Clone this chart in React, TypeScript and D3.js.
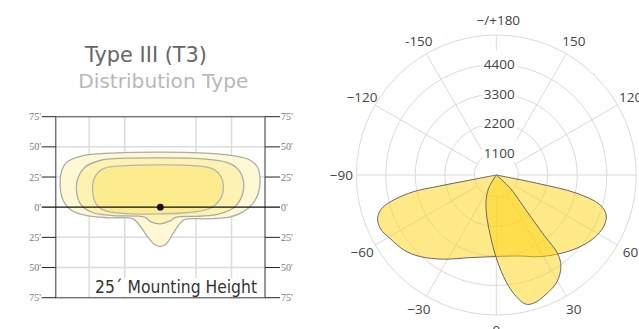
import React from "react";
import * as d3 from "d3";

// ---------- Left chart (iso-footcandle plot) data, in feet ----------
const yTickValues = [75, 50, 25, 0, -25, -50, -75];
const xGridValues = [-50, -25, 25, 50];
const yGridValues = [-50, -25, 25, 50];

const outerContour: [number, number][] = [
  [0, 45.6], [27.5, 45.1], [50.8, 42.8], [62.5, 39.3], [68.3, 33.1], [70, 23.5], [69, 12.4],
  [64.8, 2.8], [57.8, -4.1], [48.5, -8.3], [32.2, -9.6], [17, -10.2], [13.5, -13.8], [8.8, -22],
  [4.2, -30.3], [0, -32.6], [-4, -30.9], [-8.7, -24.9], [-14.5, -15.2], [-19.2, -9.6],
  [-35.5, -8.8], [-51.8, -6.9], [-62.3, -2.7], [-68.2, 5.6], [-70.3, 16.6], [-69.3, 30.4],
  [-65.8, 37.3], [-54.2, 42.8], [-30.8, 45.1],
];
const middleContour: [number, number][] = [
  [0, 40.9], [27.5, 40.3], [46.2, 37.3], [54.3, 31.8], [58.3, 22.1], [57.4, 9.7], [52, 0],
  [41.5, -5.5], [27.5, -7.5], [11.2, -8.3], [6.5, -11.6], [0, -13.8], [-6.3, -12.4], [-11, -8.3],
  [-33.2, -6.9], [-47.2, -4.6], [-55.3, 1.4], [-58.8, 12.4], [-57.7, 24.9], [-53, 33.1],
  [-42.5, 38.7], [-23.8, 40.6],
];
const innerContour: [number, number][] = [
  [0, 35.1], [22.8, 34.5], [36.8, 31.8], [42.7, 24.9], [44.3, 15.2], [41.5, 5.6], [34.5, -1.3],
  [18.2, -4.6], [0, -5.5], [-19.2, -5.5], [-37.8, -3.3], [-44.8, 2.2], [-47.6, 13.8],
  [-46, 24.9], [-40.2, 31.8], [-23.8, 34.5],
];

// ---------- Right chart (polar candela plot) data ----------
const ringValues = [1100, 2200, 3300, 4400, 5500];
const ringLabels = ["1100", "2200", "3300", "4400"];
const spokeAngles = [-150, -120, -90, -60, -30, 0, 30, 60, 90, 120, 150, 180];
const angleLabels = ["-150", "−120", "−90", "−60", "−30", "0", "30", "60", "90", "120", "150", "−/+180"];

// [angle in degrees (0 = nadir), candela]
const lateralPlane: [number, number][] = [
  [-80, 0], [-79, 1270], [-79, 2530], [-78.6, 3430], [-76.3, 4220], [-73.8, 4720], [-70, 4990],
  [-65, 5040], [-59, 4890], [-51, 4720], [-43, 4440], [-32, 3980], [-17.5, 3510], [0, 3320],
  [16.5, 3430], [27, 3700], [37.4, 4000], [47.8, 4340], [57, 4610], [64.3, 4720], [70, 4640],
  [73.9, 4310], [77.2, 3360], [78.5, 1830], [80, 0],
];
const verticalPlane: [number, number][] = [
  [-35, 0], [-30, 770], [-21.2, 1340], [-12.1, 1930], [-4.8, 2650], [-0.7, 3260], [4.1, 4080],
  [8.3, 4740], [12.7, 5210], [16.2, 5260], [23.2, 5080], [29.6, 4860], [35.2, 4460], [38, 3990],
  [38.4, 3170], [40, 2060], [46.5, 965], [50, 0],
];

export default function App() {
  // Left chart scales
  const x = d3.scaleLinear().domain([-73.5, 73.5]).range([55.7, 265]);
  const y = d3.scaleLinear().domain([-75, 75]).range([297.7, 116.7]);
  const contourLine = d3
    .line<[number, number]>()
    .x((d) => x(d[0]))
    .y((d) => y(d[1]))
    .curve(d3.curveCatmullRomClosed.alpha(0.5));

  // Polar scales
  const cx = 496.3;
  const cy = 175;
  const R = 140;
  const r = d3.scaleLinear().domain([0, 1100, 5500]).range([0, 22, R]);
  const toRad = (deg: number) => ((180 - deg) * Math.PI) / 180;
  const radial = d3
    .lineRadial<[number, number]>()
    .angle((d) => toRad(d[0]))
    .radius((d) => r(d[1]))
    .curve(d3.curveCatmullRom.alpha(0.5));
  const pt = (deg: number, rad: number): [number, number] => [
    rad * Math.sin((deg * Math.PI) / 180),
    rad * Math.cos((deg * Math.PI) / 180),
  ];

  const fontSans = "'DejaVu Sans', Verdana, sans-serif";
  const fontPlot = "'Open Sans', 'Noto Sans', sans-serif";
  const fontSerif = "'Liberation Serif', 'DejaVu Serif', serif";

  return (
    <svg
      width={639}
      height={329}
      style={{ position: "absolute", left: 0, top: 0, background: "#fff" }}
    >
      {/* Titles */}
      <text x={85} y={61.7} fontFamily={fontSans} fontSize={22} fill="#666" textLength={122} lengthAdjust="spacingAndGlyphs">
        Type III (T3)
      </text>
      <text x={78.3} y={88} fontFamily={fontSans} fontSize={19} fill="#b8b8b8" textLength={170} lengthAdjust="spacingAndGlyphs">
        Distribution Type
      </text>

      {/* Left chart grid */}
      <g>
        {xGridValues.map((v) => (
          <line key={"xg" + v} x1={x(v)} x2={x(v)} y1={y(75)} y2={y(-75)} stroke="#dcdcdc" strokeWidth={1.5} />
        ))}
        {yGridValues.map((v) => (
          <line key={"yg" + v} x1={x(-73.5)} x2={x(73.5)} y1={y(v)} y2={y(v)} stroke="#dcdcdc" strokeWidth={1.5} />
        ))}
        <path d={contourLine(outerContour) || ""} fill="#FFF8D4" stroke="#ababab" strokeWidth={1.3} />
        <path d={contourLine(middleContour) || ""} fill="#FEF2B2" stroke="#ababab" strokeWidth={1.3} />
        <path d={contourLine(innerContour) || ""} fill="#FDEC8E" stroke="#b5b5b5" strokeWidth={1.3} />
        <rect x={x(-73.5)} y={y(75)} width={x(73.5) - x(-73.5)} height={y(-75) - y(75)} fill="none" stroke="#777" strokeWidth={1.5} />
        {yTickValues.map((v) => (
          <g key={"yt" + v}>
            {v !== 0 && (
              <>
                <line x1={41.7} x2={x(-73.5)} y1={y(v)} y2={y(v)} stroke="#222" strokeWidth={1} />
                <line x1={x(73.5)} x2={280} y1={y(v)} y2={y(v)} stroke="#222" strokeWidth={1} />
              </>
            )}
            <text x={41} y={y(v)} dy="0.35em" textAnchor="end" fontFamily={fontSerif} fontSize={10} fill="#777">
              {Math.abs(v) + "'"}
            </text>
            <text x={281} y={y(v)} dy="0.35em" textAnchor="start" fontFamily={fontSerif} fontSize={10} fill="#777">
              {Math.abs(v) + "'"}
            </text>
          </g>
        ))}
        <line x1={41.7} x2={280} y1={y(0)} y2={y(0)} stroke="#111" strokeWidth={1.3} />
        <circle cx={x(0)} cy={y(0)} r={3.4} fill="#111" />
        <rect x={91.7} y={278} width={170} height={18.5} fill="#fff" />
        <text x={95} y={293.3} fontFamily={fontSans} fontSize={17} fill="#333" textLength={162} lengthAdjust="spacingAndGlyphs">
          25´ Mounting Height
        </text>
      </g>

      {/* Polar chart */}
      <g transform={`translate(${cx},${cy})`}>
        {ringValues.map((v) => (
          <circle key={"ring" + v} r={r(v)} fill="none" stroke="#dadada" strokeWidth={1} />
        ))}
        {spokeAngles.map((a) => {
          const [x1, y1] = pt(a, r(1100));
          const [x2, y2] = pt(a, R);
          return <line key={"sp" + a} x1={x1} y1={y1} x2={x2} y2={y2} stroke="#dadada" strokeWidth={1} />;
        })}
        <rect x={-14.5} y={-125} width={35} height={112} fill="#fff" />
        {ringLabels.map((t, i) => (
          <text key={t} x={3} y={-r(ringValues[i])} dy="0.35em" textAnchor="middle" fontFamily={fontPlot} fontSize={13.5} fill="#444">
            {t}
          </text>
        ))}
        {spokeAngles.map((a, i) => {
          const [lx, ly] = pt(a, 155);
          return (
            <text key={"al" + a} x={lx + (a === 180 ? 2 : 0)} y={ly} dy="0.35em" textAnchor="middle" fontFamily={fontPlot} fontSize={13.5} fill="#444">
              {angleLabels[i]}
            </text>
          );
        })}
        <path d={(radial(lateralPlane) || "") + "Z"} fill="rgba(255,212,20,0.5)" stroke="#666" strokeWidth={1} />
        <path d={(radial(verticalPlane) || "") + "Z"} fill="rgba(255,212,20,0.5)" stroke="#666" strokeWidth={1} />
      </g>
    </svg>
  );
}
